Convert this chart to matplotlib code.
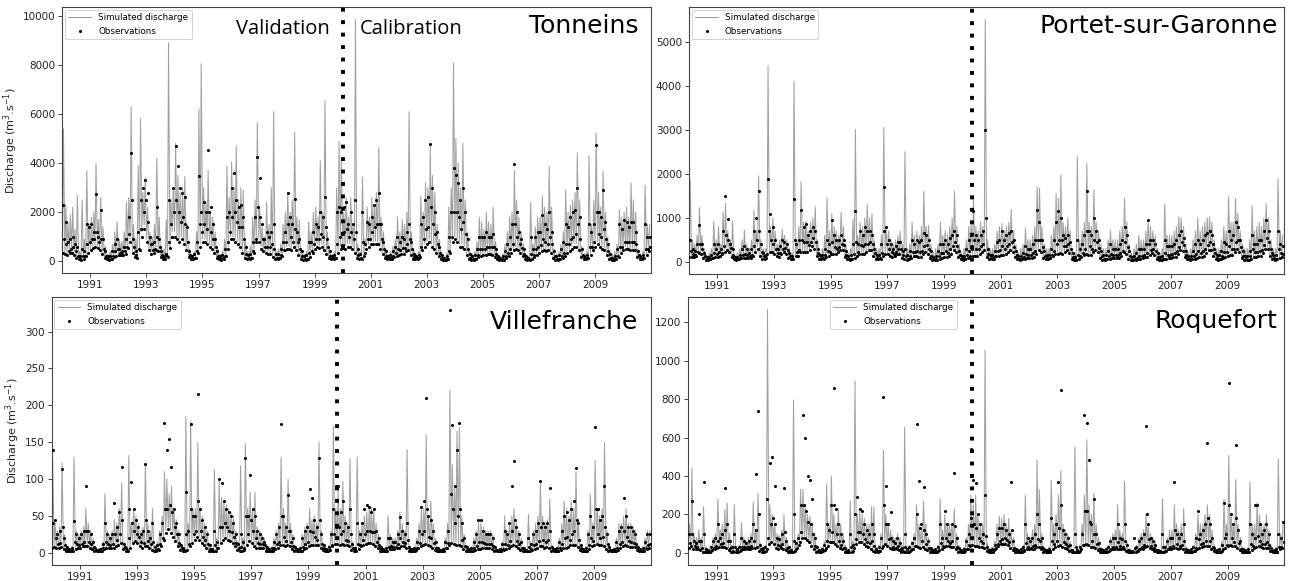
import matplotlib
matplotlib.use("Agg")
import matplotlib.pyplot as plt
import matplotlib.dates as mdates
import pandas as pd

years = list(range(1990, 2011))
year_ticks = list(range(1991, 2011, 2))
split_date = "2000-01-01"

# ---------------- Tonneins (monthly min / max of simulated, monthly low / mid / high obs) --------------
tonneins_sim_min = [
    [400, 350, 300, 450, 400, 300, 150, 100, 90, 120, 250, 400],
    [500, 600, 650, 600, 500, 350, 150, 100, 90, 120, 200, 250],
    [300, 280, 300, 350, 600, 900, 400, 200, 150, 500, 1200, 1500],
    [900, 500, 350, 400, 500, 450, 200, 120, 120, 200, 600, 1200],
    [1200, 1000, 900, 1000, 800, 500, 200, 120, 100, 150, 400, 700],
    [900, 900, 800, 700, 600, 400, 150, 100, 90, 100, 250, 600],
    [1000, 1000, 900, 800, 700, 400, 150, 100, 100, 150, 400, 900],
    [900, 600, 450, 400, 350, 350, 200, 130, 120, 150, 250, 500],
    [600, 600, 500, 700, 500, 300, 130, 90, 80, 120, 200, 400],
    [600, 700, 650, 700, 500, 350, 150, 110, 110, 180, 400, 600],
    [650, 600, 700, 700, 600, 400, 180, 110, 120, 250, 600, 700],
    [800, 800, 800, 800, 600, 350, 160, 100, 100, 120, 200, 250],
    [280, 320, 350, 450, 500, 300, 130, 100, 100, 200, 500, 700],
    [800, 900, 700, 600, 400, 250, 100, 60, 60, 100, 400, 900],
    [1000, 900, 700, 700, 600, 300, 120, 80, 80, 120, 200, 250],
    [300, 300, 350, 350, 300, 200, 100, 70, 60, 80, 150, 250],
    [400, 500, 600, 500, 400, 250, 100, 70, 80, 120, 200, 300],
    [400, 450, 500, 450, 500, 400, 150, 90, 80, 90, 150, 250],
    [400, 450, 600, 700, 700, 500, 200, 110, 100, 150, 300, 500],
    [700, 800, 700, 600, 500, 300, 130, 80, 70, 90, 200, 400],
    [500, 600, 550, 500, 500, 500, 200, 100, 90, 150, 300, 450],
]
tonneins_sim_max = [
    [5400, 2300, 1600, 1900, 2200, 1300, 2700, 400, 2500, 900, 3700, 1500],
    [1800, 2000, 4000, 1700, 2600, 1400, 600, 300, 400, 700, 1200, 1600],
    [900, 800, 1200, 2400, 2600, 6300, 1500, 900, 3900, 5800, 2800, 3400],
    [2200, 1200, 1000, 1500, 4200, 1800, 600, 500, 1700, 8900, 2500, 3000],
    [4800, 3500, 2800, 3000, 3450, 1500, 500, 300, 400, 1200, 6200, 8050],
    [3000, 2400, 3700, 2000, 1800, 1200, 500, 300, 400, 900, 3900, 2600],
    [4050, 3000, 4700, 2500, 3000, 2900, 800, 400, 600, 1800, 2500, 5650],
    [2200, 1400, 1000, 2400, 1500, 3000, 6100, 400, 500, 700, 1500, 2000],
    [2800, 2000, 2500, 5250, 1800, 1700, 500, 300, 400, 1600, 1200, 2000],
    [2200, 1800, 4100, 2000, 6550, 1200, 500, 300, 400, 3000, 4880, 4200],
    [2000, 2580, 1800, 2600, 1500, 9850, 700, 400, 3420, 900, 2200, 1800],
    [2600, 2300, 2800, 4640, 1800, 1200, 500, 300, 400, 600, 900, 1800],
    [1200, 1700, 1500, 2000, 6100, 1200, 500, 300, 400, 2650, 2000, 3200],
    [3000, 4700, 3500, 2800, 1500, 900, 300, 200, 300, 2200, 3000, 8075],
    [5000, 4000, 3000, 4800, 2500, 1200, 400, 300, 400, 800, 1800, 1600],
    [1300, 2000, 1600, 1500, 2200, 800, 300, 200, 300, 700, 1200, 1800],
    [2000, 3700, 2500, 1800, 1200, 700, 300, 200, 2400, 700, 1400, 1800],
    [1800, 2650, 2200, 2000, 3870, 2200, 500, 300, 400, 700, 1200, 2900],
    [2000, 2300, 2500, 2800, 4400, 2500, 600, 300, 400, 4300, 1500, 2500],
    [5230, 2800, 2200, 3670, 2000, 1000, 400, 300, 400, 700, 2100, 1800],
    [2000, 2200, 1800, 3200, 2500, 2000, 500, 300, 400, 3100, 1500, 1500],
]
tonneins_obs_lo = [
    [350, 300, 250, 350, 350, 250, 120, 80, 70, 100, 200, 350],
    [450, 550, 600, 550, 450, 300, 120, 80, 70, 100, 180, 220],
    [250, 250, 270, 300, 550, 800, 350, 170, 120, 450, 1000, 1300],
    [800, 450, 300, 350, 450, 400, 170, 100, 100, 170, 550, 1000],
    [1000, 900, 800, 900, 700, 450, 170, 100, 80, 120, 350, 600],
    [800, 800, 700, 600, 500, 350, 120, 80, 70, 80, 220, 500],
    [900, 900, 800, 700, 600, 350, 120, 80, 80, 120, 350, 800],
    [800, 500, 400, 350, 300, 300, 170, 110, 100, 120, 220, 450],
    [500, 500, 450, 600, 450, 250, 110, 70, 60, 100, 170, 350],
    [500, 600, 550, 600, 450, 300, 120, 90, 90, 150, 350, 500],
    [550, 500, 600, 600, 500, 350, 150, 90, 100, 200, 500, 600],
    [700, 700, 700, 700, 500, 300, 130, 80, 80, 100, 170, 220],
    [240, 280, 300, 400, 450, 250, 110, 80, 80, 170, 450, 600],
    [700, 800, 600, 500, 350, 200, 80, 50, 50, 80, 350, 800],
    [900, 800, 600, 600, 500, 250, 100, 70, 70, 100, 170, 220],
    [250, 250, 300, 300, 250, 170, 80, 60, 50, 70, 120, 200],
    [350, 450, 500, 450, 350, 200, 80, 60, 70, 100, 170, 250],
    [350, 400, 450, 400, 450, 350, 120, 70, 70, 80, 120, 200],
    [350, 400, 500, 600, 600, 450, 170, 90, 80, 120, 250, 450],
    [600, 700, 600, 500, 450, 250, 110, 70, 60, 80, 170, 350],
    [450, 500, 500, 450, 450, 450, 170, 80, 80, 120, 250, 400],
]
tonneins_obs_mid = [
    [900, 700, 400, 500, 600, 400, 200, 100, 200, 200, 700, 800],
    [900, 900, 1200, 800, 900, 500, 200, 100, 100, 200, 400, 500],
    [350, 300, 400, 600, 1100, 2500, 600, 250, 500, 1300, 2000, 2500],
    [1600, 700, 450, 500, 1000, 600, 250, 150, 200, 800, 1000, 2000],
    [2500, 2000, 1600, 1800, 1500, 800, 250, 150, 150, 400, 1500, 1200],
    [1500, 1300, 2000, 1200, 900, 600, 200, 120, 120, 200, 800, 1200],
    [1800, 2000, 1600, 1400, 1400, 900, 300, 150, 150, 400, 900, 2200],
    [1800, 900, 600, 600, 600, 700, 500, 150, 150, 250, 450, 800],
    [1500, 1000, 800, 1300, 800, 500, 200, 100, 100, 350, 400, 700],
    [900, 900, 1100, 1000, 1400, 600, 200, 120, 130, 700, 1000, 1100],
    [1200, 1300, 1000, 1200, 900, 1200, 250, 150, 800, 350, 900, 900],
    [1200, 1400, 1500, 1500, 900, 500, 200, 120, 120, 200, 350, 500],
    [450, 550, 550, 700, 900, 500, 180, 120, 120, 600, 900, 1300],
    [1400, 2200, 1500, 1100, 700, 350, 120, 70, 80, 400, 1000, 2000],
    [2000, 1800, 1300, 1600, 1100, 500, 150, 100, 100, 250, 500, 500],
    [500, 600, 600, 600, 600, 300, 120, 80, 80, 200, 350, 500],
    [700, 1500, 1000, 700, 550, 300, 120, 80, 300, 250, 500, 600],
    [650, 900, 800, 700, 1000, 700, 200, 100, 100, 200, 350, 700],
    [700, 900, 1000, 1100, 1500, 900, 250, 120, 120, 600, 600, 800],
    [2000, 1100, 1000, 1300, 900, 400, 150, 100, 100, 200, 600, 600],
    [800, 800, 800, 800, 800, 700, 250, 120, 120, 500, 500, 600],
]
tonneins_obs_hi = [
    [2300, 1600, 800, 900, 1000, 700, 600, 200, 500, 400, 1500, 1400],
    [1500, 1200, 2750, 1000, 2100, 900, 400, 200, 200, 400, 700, 900],
    [500, 400, 600, 900, 1800, 4400, 900, 400, 1200, 2500, 3000, 3300],
    [2800, 1000, 700, 800, 2200, 900, 400, 200, 300, 2500, 1500, 3000],
    [4700, 3900, 3000, 2800, 2600, 1400, 400, 200, 300, 800, 3460, 2000],
    [2400, 2000, 4550, 2200, 1500, 900, 400, 200, 250, 500, 1800, 2000],
    [3000, 3600, 2500, 2200, 2300, 1800, 600, 250, 300, 800, 1800, 4250],
    [3400, 1500, 900, 1200, 1000, 1200, 1500, 300, 300, 500, 800, 1200],
    [2800, 1800, 1500, 2550, 1200, 900, 400, 200, 250, 800, 800, 1200],
    [1500, 1400, 2000, 1800, 2600, 900, 400, 200, 250, 2000, 2200, 2000],
    [2200, 2410, 1500, 2000, 1500, 2500, 500, 300, 2000, 700, 1600, 1500],
    [1800, 2300, 2500, 2800, 1500, 800, 400, 200, 250, 400, 600, 1000],
    [800, 1000, 900, 1200, 1500, 800, 300, 200, 250, 1500, 1800, 2500],
    [2600, 4780, 3000, 2000, 1200, 600, 250, 150, 200, 1000, 2000, 3800],
    [3500, 3200, 2500, 3000, 2000, 900, 300, 200, 250, 500, 1000, 1000],
    [1000, 1200, 1000, 1000, 1100, 500, 200, 150, 200, 400, 700, 1000],
    [1500, 3950, 2000, 1200, 900, 500, 200, 150, 1000, 500, 1000, 1200],
    [1200, 1900, 1500, 1300, 2000, 1200, 400, 200, 250, 500, 800, 1500],
    [1400, 1800, 2000, 2100, 3000, 1800, 500, 200, 250, 1500, 1200, 1500],
    [4750, 2000, 1800, 2900, 1600, 700, 300, 150, 200, 500, 1500, 1300],
    [1700, 1600, 1400, 1600, 1600, 1200, 400, 200, 250, 1500, 1000, 1000],
]

# ---------------- Portet-sur-Garonne ----------------
portet_sim_min = [
    [130, 120, 110, 150, 220, 200, 90, 50, 50, 60, 90, 110],
    [130, 150, 200, 250, 300, 250, 110, 60, 50, 60, 90, 100],
    [100, 90, 100, 150, 250, 350, 150, 80, 60, 200, 250, 250],
    [200, 150, 130, 200, 250, 200, 100, 60, 60, 150, 150, 250],
    [250, 250, 250, 300, 400, 350, 150, 70, 60, 80, 120, 150],
    [200, 200, 200, 250, 300, 300, 120, 60, 50, 60, 100, 150],
    [200, 200, 200, 250, 300, 300, 150, 70, 60, 80, 150, 200],
    [200, 150, 120, 150, 200, 200, 100, 60, 50, 60, 100, 150],
    [150, 130, 130, 200, 250, 200, 90, 50, 40, 50, 80, 100],
    [130, 130, 150, 200, 300, 250, 120, 60, 50, 70, 100, 150],
    [150, 150, 150, 200, 250, 300, 120, 60, 60, 80, 150, 150],
    [180, 180, 200, 250, 300, 250, 110, 60, 50, 60, 80, 90],
    [90, 100, 120, 200, 300, 250, 100, 60, 60, 100, 150, 200],
    [200, 220, 200, 250, 300, 220, 80, 40, 40, 60, 120, 180],
    [200, 180, 180, 250, 300, 250, 100, 50, 40, 60, 80, 90],
    [90, 90, 100, 150, 250, 200, 80, 40, 40, 50, 70, 80],
    [100, 110, 130, 180, 220, 180, 80, 40, 40, 60, 80, 90],
    [100, 110, 130, 200, 300, 280, 120, 60, 50, 60, 80, 90],
    [110, 130, 150, 220, 300, 300, 150, 70, 50, 60, 90, 120],
    [150, 170, 180, 250, 330, 250, 100, 50, 40, 50, 80, 110],
    [130, 150, 160, 220, 320, 320, 150, 60, 50, 70, 100, 110],
]
portet_sim_max = [
    [1870, 500, 400, 600, 1230, 600, 300, 150, 200, 300, 920, 500],
    [800, 400, 1130, 1330, 700, 500, 920, 150, 200, 300, 500, 720],
    [400, 300, 500, 1170, 700, 1950, 500, 300, 300, 4450, 800, 1000],
    [700, 400, 500, 740, 600, 500, 300, 200, 4100, 500, 800, 1820],
    [900, 920, 700, 900, 1000, 1250, 500, 200, 300, 600, 1450, 700],
    [1090, 800, 700, 600, 1120, 800, 400, 200, 300, 970, 3000, 600],
    [900, 800, 1000, 1300, 1000, 1090, 500, 300, 300, 600, 3050, 800],
    [700, 500, 400, 500, 600, 700, 400, 2500, 300, 400, 900, 600],
    [700, 600, 800, 1600, 800, 820, 400, 200, 300, 400, 900, 600],
    [700, 600, 800, 1000, 1600, 800, 400, 200, 300, 500, 800, 900],
    [1515, 800, 700, 900, 800, 5500, 500, 300, 300, 400, 700, 800],
    [870, 700, 800, 900, 1190, 700, 400, 200, 300, 400, 760, 500],
    [500, 600, 800, 1700, 1670, 800, 400, 300, 300, 600, 800, 1550],
    [1440, 1970, 900, 800, 1000, 700, 300, 200, 2390, 500, 700, 900],
    [2230, 900, 800, 1630, 900, 700, 400, 300, 300, 500, 720, 500],
    [500, 500, 700, 800, 1440, 900, 400, 200, 300, 400, 600, 500],
    [500, 700, 950, 800, 700, 600, 300, 200, 300, 1310, 600, 600],
    [600, 700, 800, 1020, 1000, 800, 400, 200, 300, 500, 700, 1000],
    [700, 800, 900, 1000, 1020, 900, 500, 300, 300, 500, 800, 700],
    [1480, 900, 900, 1440, 1100, 700, 400, 300, 300, 500, 1270, 700],
    [800, 900, 800, 1000, 1320, 1000, 500, 300, 300, 1890, 700, 600],
]
portet_obs_lo = [
    [110, 100, 100, 130, 190, 170, 80, 45, 45, 55, 80, 100],
    [110, 130, 170, 220, 260, 220, 100, 55, 45, 55, 80, 90],
    [90, 80, 90, 130, 220, 300, 130, 70, 55, 170, 220, 220],
    [170, 130, 110, 170, 220, 170, 90, 55, 55, 130, 130, 220],
    [220, 220, 220, 260, 350, 300, 130, 60, 55, 70, 110, 130],
    [170, 170, 170, 220, 260, 260, 110, 55, 45, 55, 90, 130],
    [170, 170, 170, 220, 260, 260, 130, 60, 55, 70, 130, 170],
    [170, 130, 110, 130, 170, 170, 90, 55, 45, 55, 90, 130],
    [130, 110, 110, 170, 220, 170, 80, 45, 35, 45, 70, 90],
    [110, 110, 130, 170, 260, 220, 110, 55, 45, 60, 90, 130],
    [130, 130, 130, 170, 220, 260, 110, 55, 55, 70, 130, 130],
    [160, 160, 170, 220, 260, 220, 100, 55, 45, 55, 70, 80],
    [80, 90, 110, 170, 260, 220, 90, 55, 55, 90, 130, 170],
    [170, 190, 170, 220, 260, 190, 70, 35, 35, 55, 110, 160],
    [170, 160, 160, 220, 260, 220, 90, 45, 35, 55, 70, 80],
    [80, 80, 90, 130, 220, 170, 70, 35, 35, 45, 60, 70],
    [90, 100, 110, 160, 190, 160, 70, 35, 35, 55, 70, 80],
    [90, 100, 110, 170, 260, 240, 110, 55, 45, 55, 70, 80],
    [100, 110, 130, 190, 260, 260, 130, 60, 45, 55, 80, 110],
    [130, 150, 160, 220, 290, 220, 90, 45, 35, 45, 70, 100],
    [110, 130, 140, 190, 280, 280, 130, 55, 45, 60, 90, 100],
]
portet_obs_mid = [
    [250, 180, 160, 230, 400, 280, 130, 60, 60, 90, 200, 180],
    [220, 200, 350, 600, 500, 320, 160, 70, 60, 90, 160, 180],
    [160, 130, 160, 350, 500, 700, 220, 120, 90, 700, 500, 400],
    [300, 200, 200, 300, 320, 260, 130, 80, 500, 220, 260, 500],
    [450, 450, 380, 450, 550, 450, 200, 90, 80, 150, 250, 220],
    [450, 330, 300, 330, 400, 380, 160, 70, 70, 180, 450, 230],
    [380, 350, 400, 400, 450, 400, 200, 90, 80, 200, 700, 400],
    [300, 220, 180, 220, 300, 280, 150, 120, 70, 120, 220, 220],
    [250, 220, 250, 350, 380, 300, 130, 60, 60, 120, 200, 200],
    [250, 200, 280, 350, 450, 350, 160, 80, 70, 150, 250, 300],
    [500, 300, 280, 350, 400, 1000, 170, 80, 80, 130, 250, 270],
    [350, 300, 350, 400, 450, 330, 150, 70, 70, 100, 180, 150],
    [150, 200, 250, 500, 500, 330, 140, 80, 80, 160, 250, 400],
    [500, 500, 350, 350, 400, 300, 110, 50, 150, 120, 200, 300],
    [700, 350, 300, 500, 450, 320, 140, 70, 60, 120, 180, 150],
    [150, 150, 200, 250, 450, 330, 120, 50, 60, 90, 140, 140],
    [150, 200, 400, 270, 300, 240, 100, 50, 60, 200, 160, 160],
    [180, 200, 250, 330, 450, 380, 160, 70, 60, 120, 180, 250],
    [200, 250, 300, 380, 450, 400, 190, 80, 70, 120, 220, 220],
    [350, 280, 300, 450, 500, 330, 140, 60, 50, 120, 300, 220],
    [220, 250, 270, 380, 550, 450, 190, 80, 70, 300, 200, 180],
]
portet_obs_hi = [
    [500, 300, 250, 400, 830, 400, 200, 100, 100, 150, 400, 300],
    [400, 300, 700, 1500, 970, 400, 300, 100, 100, 150, 300, 350],
    [300, 200, 300, 700, 1000, 1600, 400, 200, 150, 1870, 1080, 800],
    [500, 300, 350, 500, 450, 400, 200, 120, 1430, 400, 500, 1170],
    [800, 850, 600, 700, 800, 700, 300, 150, 150, 300, 500, 400],
    [950, 600, 500, 500, 600, 500, 250, 120, 150, 400, 1150, 400],
    [700, 600, 800, 700, 700, 600, 300, 150, 150, 400, 1700, 800],
    [500, 400, 300, 350, 450, 450, 250, 300, 150, 250, 500, 400],
    [500, 450, 500, 650, 600, 500, 250, 100, 120, 250, 400, 400],
    [500, 400, 550, 600, 700, 600, 250, 120, 120, 300, 500, 600],
    [1150, 600, 500, 600, 700, 3000, 300, 150, 150, 250, 450, 500],
    [700, 500, 600, 650, 700, 500, 250, 120, 120, 200, 350, 300],
    [300, 400, 500, 1170, 900, 500, 250, 150, 150, 300, 500, 900],
    [1150, 1000, 600, 550, 600, 450, 200, 100, 500, 300, 400, 600],
    [1600, 700, 600, 1000, 700, 500, 250, 150, 150, 250, 400, 300],
    [300, 300, 400, 500, 800, 600, 250, 100, 120, 200, 300, 300],
    [300, 400, 950, 500, 500, 400, 200, 100, 120, 500, 350, 350],
    [350, 400, 500, 600, 700, 550, 250, 120, 120, 250, 400, 500],
    [400, 500, 600, 650, 700, 600, 300, 150, 150, 250, 450, 400],
    [700, 500, 600, 900, 800, 500, 250, 120, 120, 250, 600, 400],
    [400, 500, 500, 700, 950, 700, 300, 150, 150, 700, 400, 350],
]

# ---------------- Villefranche ----------------
villefranche_sim_min = [
    [8, 10, 8, 8, 10, 6, 4, 3, 3, 4, 6, 7],
    [8, 10, 10, 10, 8, 6, 4, 3, 3, 4, 6, 7],
    [7, 7, 8, 10, 12, 15, 6, 4, 3, 8, 15, 18],
    [15, 10, 8, 10, 10, 8, 5, 3, 3, 5, 10, 20],
    [30, 35, 30, 25, 18, 10, 5, 3, 3, 5, 10, 15],
    [20, 25, 20, 15, 12, 8, 4, 3, 3, 4, 8, 15],
    [20, 22, 20, 18, 15, 10, 5, 3, 3, 5, 12, 18],
    [15, 10, 8, 8, 8, 7, 4, 3, 3, 4, 6, 8],
    [12, 12, 10, 12, 10, 6, 4, 3, 3, 4, 6, 8],
    [10, 12, 12, 12, 12, 8, 5, 3, 3, 5, 10, 14],
    [14, 12, 14, 12, 12, 10, 5, 3, 3, 6, 10, 12],
    [14, 15, 15, 14, 10, 7, 4, 3, 3, 4, 6, 6],
    [6, 7, 8, 10, 10, 7, 4, 3, 3, 5, 8, 10],
    [12, 14, 12, 10, 8, 5, 3, 2, 2, 3, 8, 12],
    [15, 14, 12, 12, 10, 6, 4, 3, 3, 4, 5, 6],
    [6, 7, 8, 8, 8, 6, 3, 2, 2, 3, 5, 6],
    [8, 10, 12, 10, 8, 5, 3, 2, 2, 3, 5, 6],
    [8, 10, 10, 8, 9, 8, 4, 3, 3, 3, 5, 7],
    [8, 9, 12, 12, 12, 9, 5, 3, 3, 4, 6, 10],
    [12, 14, 12, 12, 10, 6, 3, 2, 2, 3, 5, 8],
    [10, 12, 10, 9, 9, 9, 5, 3, 3, 4, 6, 8],
]
villefranche_sim_max = [
    [125, 40, 30, 35, 122, 25, 10, 6, 8, 130, 30, 25],
    [30, 35, 60, 40, 30, 20, 8, 5, 6, 15, 80, 30],
    [25, 30, 45, 40, 60, 95, 15, 8, 132, 40, 60, 50],
    [40, 30, 35, 120, 40, 30, 60, 10, 15, 30, 50, 110],
    [100, 80, 90, 60, 45, 30, 12, 8, 185, 40, 178, 60],
    [60, 150, 60, 50, 40, 30, 12, 6, 113, 20, 98, 75],
    [70, 65, 60, 55, 50, 30, 15, 118, 20, 148, 60, 82],
    [60, 82, 35, 30, 25, 20, 10, 6, 8, 20, 30, 40],
    [130, 60, 40, 100, 40, 25, 10, 6, 8, 25, 35, 40],
    [60, 45, 50, 40, 150, 30, 12, 6, 10, 30, 172, 60],
    [85, 60, 97, 50, 40, 128, 15, 8, 130, 30, 40, 50],
    [55, 60, 62, 60, 40, 25, 10, 6, 8, 50, 25, 20],
    [20, 30, 55, 40, 30, 140, 10, 6, 8, 20, 40, 60],
    [60, 160, 50, 70, 40, 20, 8, 5, 6, 20, 40, 220],
    [120, 90, 165, 170, 50, 25, 10, 6, 8, 20, 30, 40],
    [40, 35, 30, 30, 30, 25, 10, 5, 6, 15, 50, 30],
    [40, 50, 60, 40, 30, 20, 8, 5, 52, 15, 30, 40],
    [50, 95, 50, 40, 45, 73, 10, 6, 8, 20, 40, 70],
    [60, 50, 70, 60, 110, 40, 12, 6, 8, 30, 80, 40],
    [125, 60, 50, 60, 150, 30, 10, 5, 6, 20, 40, 40],
    [50, 60, 40, 40, 35, 30, 10, 6, 8, 20, 30, 30],
]
villefranche_obs_lo = [
    [7, 8, 7, 7, 8, 5, 3, 3, 3, 3, 5, 6],
    [7, 9, 9, 9, 7, 5, 3, 3, 3, 3, 5, 6],
    [6, 6, 7, 9, 10, 13, 5, 3, 3, 7, 13, 16],
    [13, 9, 7, 9, 9, 7, 4, 3, 3, 4, 9, 18],
    [27, 32, 27, 22, 16, 9, 4, 3, 3, 4, 9, 13],
    [18, 22, 18, 13, 10, 7, 3, 2, 2, 3, 7, 13],
    [18, 20, 18, 16, 13, 9, 4, 3, 3, 4, 10, 16],
    [13, 9, 7, 7, 7, 6, 3, 2, 2, 3, 5, 7],
    [10, 10, 9, 10, 9, 5, 3, 2, 2, 3, 5, 7],
    [9, 10, 10, 10, 10, 7, 4, 3, 3, 4, 9, 12],
    [12, 10, 12, 10, 10, 9, 4, 3, 3, 5, 9, 10],
    [12, 13, 13, 12, 9, 6, 3, 2, 2, 3, 5, 5],
    [5, 6, 7, 9, 9, 6, 3, 2, 2, 4, 7, 9],
    [10, 12, 10, 9, 7, 4, 2, 2, 2, 3, 7, 10],
    [13, 12, 10, 10, 9, 5, 3, 2, 2, 3, 4, 5],
    [5, 6, 7, 7, 7, 5, 3, 2, 2, 2, 4, 5],
    [7, 9, 10, 9, 7, 4, 2, 2, 2, 3, 4, 5],
    [7, 9, 9, 7, 8, 7, 3, 2, 2, 3, 4, 6],
    [7, 8, 10, 10, 10, 8, 4, 3, 3, 3, 5, 9],
    [10, 12, 10, 10, 9, 5, 3, 2, 2, 3, 4, 7],
    [9, 10, 9, 8, 8, 8, 4, 3, 3, 3, 5, 7],
]
villefranche_obs_mid = [
    [40, 20, 12, 14, 35, 10, 5, 3, 4, 15, 12, 10],
    [12, 15, 30, 15, 12, 8, 4, 3, 3, 6, 15, 12],
    [10, 12, 25, 18, 25, 45, 8, 4, 20, 40, 30, 25],
    [22, 15, 14, 45, 16, 12, 15, 4, 5, 12, 20, 60],
    [60, 65, 55, 35, 25, 14, 6, 4, 25, 12, 60, 25],
    [30, 70, 30, 22, 18, 12, 5, 3, 10, 6, 35, 35],
    [40, 35, 30, 28, 22, 14, 6, 8, 6, 50, 25, 45],
    [30, 20, 14, 12, 12, 10, 5, 3, 3, 7, 12, 15],
    [50, 22, 16, 30, 15, 9, 5, 3, 3, 8, 12, 15],
    [30, 28, 22, 18, 45, 12, 6, 3, 4, 10, 25, 35],
    [35, 25, 30, 18, 16, 25, 6, 4, 12, 10, 18, 25],
    [30, 30, 28, 28, 15, 10, 5, 3, 3, 8, 9, 8],
    [8, 12, 20, 15, 13, 18, 5, 3, 3, 7, 14, 25],
    [30, 60, 22, 20, 13, 7, 3, 2, 3, 6, 14, 80],
    [60, 40, 50, 60, 18, 9, 4, 3, 3, 6, 9, 15],
    [15, 13, 12, 12, 12, 9, 4, 2, 3, 5, 12, 10],
    [16, 30, 45, 16, 12, 7, 3, 2, 8, 5, 10, 12],
    [16, 35, 18, 15, 18, 30, 5, 3, 3, 6, 12, 20],
    [22, 18, 25, 30, 45, 18, 6, 3, 3, 10, 20, 16],
    [60, 25, 20, 22, 35, 12, 4, 2, 3, 6, 12, 15],
    [30, 22, 16, 15, 14, 12, 5, 3, 3, 6, 10, 12],
]
villefranche_obs_hi = [
    [140, 45, 25, 30, 114, 20, 8, 5, 6, 43, 25, 20],
    [25, 30, 90, 30, 25, 15, 6, 4, 5, 12, 40, 25],
    [20, 25, 68, 35, 55, 116, 12, 6, 60, 96, 60, 45],
    [35, 25, 30, 120, 30, 20, 40, 8, 10, 25, 40, 176],
    [140, 155, 116, 60, 40, 25, 10, 6, 82, 30, 175, 50],
    [50, 215, 60, 45, 35, 25, 10, 5, 30, 15, 100, 95],
    [70, 60, 55, 50, 40, 25, 12, 25, 15, 128, 50, 106],
    [60, 50, 30, 25, 20, 15, 8, 5, 6, 15, 25, 35],
    [175, 50, 35, 78, 30, 20, 8, 5, 6, 20, 30, 35],
    [86, 75, 45, 35, 128, 25, 10, 5, 8, 25, 60, 90],
    [90, 55, 70, 40, 35, 60, 12, 6, 40, 25, 40, 60],
    [65, 62, 55, 60, 30, 20, 8, 5, 6, 20, 20, 15],
    [15, 25, 48, 30, 25, 40, 8, 5, 6, 15, 30, 62],
    [70, 210, 50, 45, 30, 15, 6, 4, 5, 15, 30, 329],
    [173, 90, 140, 176, 40, 20, 8, 5, 6, 15, 25, 45],
    [45, 30, 25, 25, 25, 20, 8, 4, 5, 12, 30, 25],
    [40, 90, 125, 35, 25, 15, 6, 4, 20, 12, 25, 30],
    [40, 97, 40, 35, 40, 88, 8, 5, 6, 15, 30, 50],
    [55, 45, 60, 70, 115, 40, 10, 5, 6, 25, 50, 35],
    [170, 60, 45, 50, 90, 25, 8, 4, 5, 15, 30, 35],
    [75, 50, 35, 35, 30, 25, 8, 5, 6, 15, 25, 25],
]

# ---------------- Roquefort ----------------
roquefort_sim_min = [
    [30, 40, 25, 25, 25, 15, 8, 5, 5, 8, 15, 20],
    [30, 35, 35, 35, 30, 15, 8, 5, 5, 8, 15, 20],
    [20, 20, 20, 30, 30, 35, 10, 6, 6, 20, 50, 60],
    [50, 30, 25, 30, 25, 15, 8, 5, 5, 10, 30, 60],
    [80, 80, 70, 60, 40, 20, 8, 5, 5, 10, 30, 40],
    [60, 60, 50, 40, 30, 20, 8, 5, 5, 8, 30, 50],
    [60, 60, 50, 40, 35, 25, 10, 5, 5, 10, 40, 50],
    [40, 30, 20, 20, 20, 15, 8, 5, 5, 8, 15, 25],
    [40, 35, 30, 35, 25, 15, 8, 5, 5, 8, 15, 25],
    [35, 40, 40, 35, 35, 20, 8, 5, 5, 10, 25, 40],
    [45, 40, 40, 35, 35, 30, 10, 6, 6, 15, 30, 40],
    [50, 50, 50, 45, 30, 15, 8, 5, 5, 8, 15, 20],
    [20, 25, 25, 35, 35, 20, 8, 5, 5, 10, 25, 35],
    [40, 45, 35, 30, 25, 12, 6, 4, 4, 8, 25, 45],
    [50, 45, 35, 35, 30, 15, 6, 4, 4, 8, 15, 20],
    [20, 25, 25, 25, 25, 12, 5, 4, 4, 6, 12, 20],
    [25, 35, 40, 30, 20, 12, 5, 4, 4, 8, 12, 20],
    [25, 30, 30, 25, 30, 25, 8, 5, 5, 6, 12, 25],
    [30, 35, 40, 40, 40, 25, 10, 5, 5, 8, 20, 30],
    [40, 45, 40, 40, 30, 15, 6, 4, 4, 6, 15, 30],
    [35, 40, 35, 30, 30, 30, 10, 5, 5, 8, 20, 30],
]
roquefort_sim_max = [
    [150, 440, 100, 80, 120, 80, 240, 30, 20, 40, 80, 100],
    [280, 120, 150, 225, 260, 100, 40, 250, 25, 40, 155, 80],
    [60, 80, 100, 265, 120, 310, 50, 30, 40, 1265, 250, 200],
    [150, 100, 90, 120, 200, 80, 40, 20, 795, 60, 100, 330],
    [330, 250, 200, 190, 150, 100, 40, 20, 30, 60, 360, 150],
    [400, 200, 150, 230, 150, 100, 40, 20, 270, 60, 895, 200],
    [220, 200, 180, 150, 150, 240, 240, 30, 40, 100, 535, 200],
    [150, 120, 90, 80, 100, 80, 40, 655, 30, 40, 60, 100],
    [250, 150, 120, 270, 150, 80, 30, 20, 25, 40, 280, 120],
    [200, 150, 150, 150, 230, 100, 40, 20, 30, 80, 150, 300],
    [250, 300, 200, 150, 150, 1055, 50, 25, 30, 60, 150, 190],
    [180, 200, 150, 180, 120, 80, 30, 20, 25, 40, 300, 100],
    [80, 120, 150, 485, 330, 100, 30, 20, 30, 377, 150, 200],
    [300, 428, 150, 120, 100, 60, 20, 550, 20, 40, 150, 300],
    [589, 250, 200, 310, 150, 80, 30, 20, 25, 40, 80, 100],
    [120, 250, 120, 100, 372, 60, 20, 15, 20, 40, 80, 100],
    [120, 200, 150, 100, 80, 60, 20, 15, 280, 40, 80, 120],
    [120, 250, 150, 120, 150, 230, 30, 20, 25, 40, 100, 200],
    [150, 150, 200, 250, 200, 120, 40, 20, 25, 60, 280, 150],
    [506, 200, 150, 381, 150, 80, 30, 20, 25, 370, 150, 150],
    [260, 200, 150, 150, 200, 120, 40, 20, 30, 488, 100, 150],
]
roquefort_obs_lo = [
    [25, 35, 22, 22, 22, 13, 7, 4, 4, 7, 13, 18],
    [25, 30, 30, 30, 25, 13, 7, 4, 4, 7, 13, 18],
    [18, 18, 18, 25, 25, 30, 9, 5, 5, 18, 45, 55],
    [45, 25, 22, 25, 22, 13, 7, 4, 4, 9, 25, 55],
    [75, 75, 65, 55, 35, 18, 7, 4, 4, 9, 25, 35],
    [55, 55, 45, 35, 25, 18, 7, 4, 4, 7, 25, 45],
    [55, 55, 45, 35, 30, 22, 9, 4, 4, 9, 35, 45],
    [35, 25, 18, 18, 18, 13, 7, 4, 4, 7, 13, 22],
    [35, 30, 25, 30, 22, 13, 7, 4, 4, 7, 13, 22],
    [30, 35, 35, 30, 30, 18, 7, 4, 4, 9, 22, 35],
    [40, 35, 35, 30, 30, 25, 9, 5, 5, 13, 25, 35],
    [45, 45, 45, 40, 25, 13, 7, 4, 4, 7, 13, 18],
    [18, 22, 22, 30, 30, 18, 7, 4, 4, 9, 22, 30],
    [35, 40, 30, 25, 22, 10, 5, 3, 3, 7, 22, 40],
    [45, 40, 30, 30, 25, 13, 5, 3, 3, 7, 13, 18],
    [18, 22, 22, 22, 22, 10, 4, 3, 3, 5, 10, 18],
    [22, 30, 35, 25, 18, 10, 4, 3, 3, 7, 10, 18],
    [22, 25, 25, 22, 25, 22, 7, 4, 4, 5, 10, 22],
    [25, 30, 35, 35, 35, 22, 9, 4, 4, 7, 18, 25],
    [35, 40, 35, 35, 25, 13, 5, 3, 3, 5, 13, 25],
    [30, 35, 30, 25, 25, 25, 9, 4, 4, 7, 18, 25],
]
roquefort_obs_mid = [
    [50, 100, 35, 30, 60, 25, 100, 8, 6, 12, 25, 35],
    [60, 45, 50, 120, 60, 25, 12, 30, 8, 12, 30, 30],
    [30, 30, 35, 60, 120, 200, 18, 10, 10, 80, 150, 180],
    [150, 40, 35, 45, 110, 25, 12, 7, 60, 20, 40, 110],
    [250, 220, 160, 150, 100, 35, 12, 7, 8, 15, 60, 55],
    [110, 250, 100, 60, 40, 25, 10, 6, 30, 12, 70, 110],
    [110, 100, 70, 55, 50, 60, 35, 8, 8, 25, 250, 150],
    [70, 80, 30, 25, 35, 22, 10, 30, 7, 12, 22, 35],
    [200, 130, 60, 120, 45, 25, 10, 6, 7, 12, 50, 35],
    [80, 60, 50, 60, 140, 30, 10, 6, 7, 20, 40, 180],
    [150, 130, 80, 60, 50, 90, 14, 7, 7, 20, 45, 60],
    [70, 75, 65, 55, 120, 25, 9, 6, 6, 12, 50, 30],
    [28, 35, 40, 70, 60, 30, 9, 6, 7, 60, 45, 60],
    [130, 250, 55, 45, 35, 16, 6, 30, 5, 10, 40, 220],
    [220, 160, 60, 100, 45, 20, 7, 5, 5, 10, 22, 30],
    [30, 55, 35, 30, 60, 16, 6, 4, 25, 8, 20, 30],
    [40, 200, 70, 35, 25, 15, 5, 4, 30, 10, 20, 30],
    [35, 120, 45, 35, 40, 60, 8, 5, 6, 8, 25, 70],
    [45, 50, 60, 180, 60, 30, 10, 5, 6, 12, 80, 40],
    [250, 80, 55, 180, 50, 20, 7, 4, 5, 45, 35, 80],
    [90, 60, 45, 45, 55, 40, 10, 5, 6, 30, 30, 55],
]
roquefort_obs_hi = [
    [100, 270, 60, 50, 200, 60, 370, 20, 15, 30, 60, 80],
    [150, 80, 100, 340, 150, 60, 30, 100, 20, 30, 80, 60],
    [50, 60, 80, 150, 410, 740, 40, 25, 30, 280, 470, 500],
    [350, 80, 70, 100, 340, 60, 30, 15, 200, 50, 80, 250],
    [715, 600, 400, 380, 280, 80, 30, 15, 20, 40, 150, 120],
    [250, 860, 230, 150, 100, 60, 25, 15, 100, 40, 200, 290],
    [230, 220, 150, 120, 100, 150, 100, 20, 30, 80, 810, 350],
    [150, 215, 60, 50, 80, 50, 25, 100, 20, 30, 50, 80],
    [670, 375, 150, 345, 100, 60, 25, 15, 20, 30, 150, 80],
    [220, 150, 100, 150, 415, 80, 25, 15, 20, 60, 100, 540],
    [380, 364, 200, 150, 100, 300, 30, 15, 20, 40, 100, 130],
    [130, 150, 120, 100, 369, 60, 20, 15, 20, 30, 150, 80],
    [60, 80, 100, 200, 150, 80, 20, 15, 20, 180, 100, 150],
    [370, 850, 120, 100, 80, 40, 15, 100, 15, 30, 100, 715],
    [675, 485, 150, 280, 100, 50, 20, 15, 20, 30, 60, 80],
    [80, 150, 80, 70, 150, 40, 15, 10, 80, 30, 60, 80],
    [100, 661, 150, 80, 60, 40, 15, 10, 100, 30, 60, 80],
    [80, 370, 100, 80, 100, 150, 20, 15, 20, 30, 80, 220],
    [100, 120, 150, 571, 150, 80, 25, 15, 20, 40, 260, 100],
    [883, 200, 150, 563, 120, 60, 20, 15, 20, 150, 100, 250],
    [250, 150, 100, 120, 150, 100, 25, 15, 20, 100, 80, 160],
]

station_names = ["Tonneins", "Portet-sur-Garonne", "Villefranche", "Roquefort"]
y_limits = [(-490, 10350), (-278, 5780), (-16.5, 346.5), (-63, 1330)]
y_tick_steps = [2000, 1000, 50, 200]
y_tick_max = [10000, 5000, 300, 1200]


def sim_series(mins, maxs):
    dates, vals = [], []
    for i, y in enumerate(years):
        for m in range(12):
            dates.append(pd.Timestamp(y, m + 1, 3))
            vals.append(mins[i][m])
            dates.append(pd.Timestamp(y, m + 1, 16))
            vals.append(maxs[i][m])
    return dates, vals


def obs_series(lo, mid, hi):
    dates, vals = [], []
    for i, y in enumerate(years):
        for m in range(12):
            dates.append(pd.Timestamp(y, m + 1, 5))
            vals.append(lo[i][m])
            dates.append(pd.Timestamp(y, m + 1, 16))
            vals.append(hi[i][m])
            dates.append(pd.Timestamp(y, m + 1, 24))
            vals.append(mid[i][m])
    return dates, vals


data = [
    (tonneins_sim_min, tonneins_sim_max, tonneins_obs_lo, tonneins_obs_mid, tonneins_obs_hi),
    (portet_sim_min, portet_sim_max, portet_obs_lo, portet_obs_mid, portet_obs_hi),
    (villefranche_sim_min, villefranche_sim_max, villefranche_obs_lo, villefranche_obs_mid,
     villefranche_obs_hi),
    (roquefort_sim_min, roquefort_sim_max, roquefort_obs_lo, roquefort_obs_mid, roquefort_obs_hi),
]

W, H = 1293, 581
fig = plt.figure(figsize=(W / 100, H / 100), dpi=100)

# axes boxes in pixels: left, top, right, bottom
boxes = [(62.3, 7.3, 651, 273.3), (689, 7.3, 1284, 274),
         (51.5, 297.3, 651, 565), (688.3, 297.3, 1284.3, 565)]
title_pos = [(0.978, 0.93), (0.99, 0.93), (0.978, 0.908), (0.989, 0.912)]
legend_anchor = [(0.0, 1.0), (0.0, 1.0), (0.0, 1.0), (0.233, 1.0)]

for k in range(4):
    l, t, r, b = boxes[k]
    ax = fig.add_axes([l / W, 1 - b / H, (r - l) / W, (b - t) / H])
    smin, smax, olo, omid, ohi = data[k]
    sd, sv = sim_series(smin, smax)
    od, ov = obs_series(olo, omid, ohi)
    ax.plot(sd, sv, color="#a0a0a0", lw=0.75, label="Simulated discharge", zorder=2)
    ax.plot(od, ov, linestyle="none", marker=".", markersize=2.4, color="black",
            label="Observations", zorder=3)
    ax.axvline(pd.Timestamp(split_date), color="black", linestyle=(0, (1, 2.2)), lw=2.8, zorder=4)
    ax.set_xlim(pd.Timestamp("1990-01-01"), pd.Timestamp("2011-01-01"))
    ax.set_ylim(*y_limits[k])
    ax.set_yticks(list(range(0, y_tick_max[k] + 1, y_tick_steps[k])))
    ax.set_xticks([pd.Timestamp(f"{yy}-01-01") for yy in year_ticks])
    ax.xaxis.set_major_formatter(mdates.DateFormatter("%Y"))
    ax.tick_params(labelsize=7.5, length=3, width=0.6, pad=2, colors="#222222")
    for sp in ax.spines.values():
        sp.set_color("#444444")
        sp.set_linewidth(0.8)
    if k in (0, 2):
        ax.set_ylabel("Discharge (m$^3$.s$^{-1}$)", fontsize=8, color="#222222", labelpad=2)
    ax.text(title_pos[k][0], title_pos[k][1], station_names[k], transform=ax.transAxes,
            ha="right", va="center", fontsize=18)
    leg = ax.legend(loc="upper left", bbox_to_anchor=legend_anchor[k], fontsize=6.3,
                    framealpha=1, borderaxespad=0.3, handlelength=2.6)
    leg.get_frame().set_linewidth(0.6)
    if k == 0:
        ax.text(0.4547, 0.918, "Validation", transform=ax.transAxes, ha="right",
                va="center", fontsize=14.5, family=["Open Sans", "DejaVu Sans"])
        ax.text(0.5057, 0.918, "Calibration", transform=ax.transAxes, ha="left",
                va="center", fontsize=14.5, family=["Open Sans", "DejaVu Sans"])

fig.savefig("out.png", dpi=100)
